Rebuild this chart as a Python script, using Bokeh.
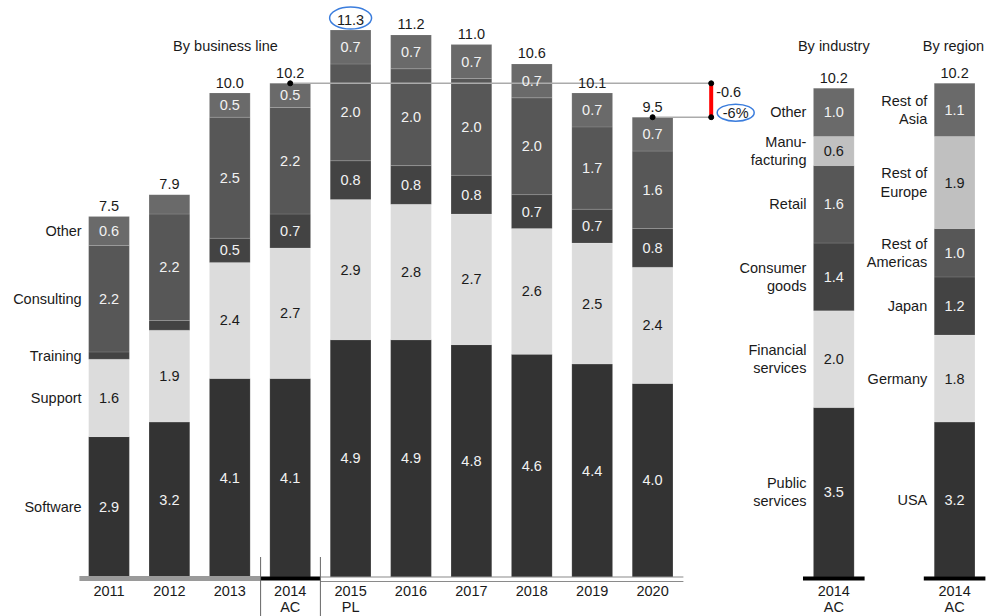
from bokeh.plotting import figure
from bokeh.models import Range1d, ColumnDataSource
from bokeh.core.properties import value
from bokeh.embed import file_html
from bokeh.resources import INLINE

# ---------------- data ----------------
years = ["2011", "2012", "2013", "2014", "2015", "2016", "2017", "2018", "2019", "2020"]
year_notes = ["", "", "", "AC", "PL", "", "", "", "", ""]
segment_names = ["Software", "Support", "Training", "Consulting", "Other"]
software = [2.9, 3.2, 4.1, 4.1, 4.9, 4.9, 4.8, 4.6, 4.4, 4.0]
support = [1.6, 1.9, 2.4, 2.7, 2.9, 2.8, 2.7, 2.6, 2.5, 2.4]
training = [0.15, 0.2, 0.5, 0.7, 0.8, 0.8, 0.8, 0.7, 0.7, 0.8]
consulting = [2.2, 2.2, 2.5, 2.2, 2.0, 2.0, 2.0, 2.0, 1.7, 1.6]
other = [0.6, 0.4, 0.5, 0.5, 0.7, 0.7, 0.7, 0.7, 0.7, 0.7]
totals = [7.5, 7.9, 10.0, 10.2, 11.3, 11.2, 11.0, 10.6, 10.1, 9.5]

industry_names = ["Public\nservices", "Financial\nservices", "Consumer\ngoods", "Retail", "Manu-\nfacturing", "Other"]
industry_values = [3.5, 2.0, 1.4, 1.6, 0.6, 1.0]
industry_total = 10.2

region_names = ["USA", "Germany", "Japan", "Rest of\nAmericas", "Rest of\nEurope", "Rest of\nAsia"]
region_values = [3.2, 1.8, 1.2, 1.0, 1.9, 1.1]
region_total = 10.2

panel_year = "2014"
panel_note = "AC"
titles = ["By business line", "By industry", "By region"]
delta_abs_label = "-0.6"
delta_pct_label = "-6%"

# ---------------- layout / style ----------------
W, H = 986, 616
PX_X, PX_Y = 60.4, 48.4          # pixels per data unit
X0, BASE = 108.5, 576.5          # canvas position of first bar centre / baseline
FONT = value("Liberation Sans")
FS = "14.5px"
BW = 0.674

main_colors = ["#333333", "#dcdcdc", "#434343", "#575757", "#6a6a6a"]
panel_colors = ["#333333", "#dcdcdc", "#434343", "#575757", "#c0c0c0", "#6a6a6a"]
light = {"#dcdcdc", "#c0c0c0"}

def dx(px):
    return px / PX_X

def dy(px):
    return px / PX_Y

p = figure(width=W, height=H, output_backend="svg", toolbar_location=None,
           x_range=Range1d(-X0 / PX_X, (W - X0) / PX_X),
           y_range=Range1d(-(H - BASE) / PX_Y, BASE / PX_Y),
           x_axis_location=None, y_axis_location=None, min_border=0)
p.grid.visible = False
p.outline_line_color = None
p.background_fill_color = "white"

xs = list(range(len(years)))
X_IND, X_REG = 12.0, 14.0

# ---------- stacked bars ----------
bars = dict(x=[], bottom=[], top=[], color=[])
labs = dict(x=[], y=[], text=[], color=[])

def add_stack(x, vals, colors, min_label=0.5):
    b = 0.0
    for v, c in zip(vals, colors):
        bars["x"].append(x); bars["bottom"].append(b); bars["top"].append(b + v)
        bars["color"].append(c)
        if v >= min_label:
            labs["x"].append(x); labs["y"].append(b + v / 2)
            labs["text"].append(f"{v:.1f}")
            labs["color"].append("#1a1a1a" if c in light else "#f2f2f2")
        b += v
    return b

series = [software, support, training, consulting, other]
tops = []
for i, x in enumerate(xs):
    tops.append(add_stack(x, [s[i] for s in series], main_colors))
ind_top = add_stack(X_IND, industry_values, panel_colors)
reg_top = add_stack(X_REG, region_values, panel_colors)

p.vbar(x="x", bottom="bottom", top="top", width=BW, fill_color="color",
       line_color="white", line_alpha=0.12, line_width=1, source=ColumnDataSource(bars))

# ---------- baseline pieces ----------
p.segment(x0=[xs[0] - 0.49], y0=[-dy(1.5)], x1=[2.51], y1=[-dy(1.5)], line_color="#9a9a9a", line_width=5)
p.segment(x0=[2.51], y0=[-dy(1.5)], x1=[3.5], y1=[-dy(1.5)], line_color="#000000", line_width=4)
for off in (0.0, 4.5):
    p.segment(x0=[3.5], y0=[-dy(off)], x1=[xs[-1] + 0.51], y1=[-dy(off)], line_color="#8a8a8a", line_width=1.2)
for xp in (X_IND, X_REG):
    p.segment(x0=[xp - 0.51], y0=[-dy(1.5)], x1=[xp + 0.51], y1=[-dy(1.5)], line_color="#000000", line_width=4)
p.segment(x0=[2.51, 3.5], y0=[dy(20), dy(20)], x1=[2.51, 3.5], y1=[-dy(60), -dy(60)],
          line_color="#666666", line_width=1)

# ---------- reference lines & delta ----------
DX = 9.97
y_ref, y_end = tops[3], tops[9]
p.segment(x0=[3, 9], y0=[y_ref, y_end], x1=[DX, DX], y1=[y_ref, y_end], line_color="#ababab", line_width=1.5)
p.segment(x0=[DX], y0=[y_end], x1=[DX], y1=[y_ref], line_color="#ff0000", line_width=4)
p.scatter(x=[3, DX, DX, 9], y=[y_ref, y_ref, y_end, y_end], size=5, color="black")
p.text(x=[DX], y=[y_ref], text=[delta_abs_label], text_font=FONT, text_font_size=FS,
       text_align="left", text_baseline="middle", x_offset=5, y_offset=9, text_color="#1a1a1a")
pct_x, pct_y = DX + dx(24.5), y_end + dy(4.5)
p.ellipse(x=[pct_x], y=[pct_y], width=37, height=17, width_units="screen", height_units="screen",
          fill_color=None, line_color="#3b7ddd", line_width=1.5)
p.text(x=[pct_x], y=[pct_y], text=[delta_pct_label], text_font=FONT, text_font_size=FS,
       text_align="center", text_baseline="middle", text_color="#1a1a1a")

# ---------- segment labels ----------
p.text(x="x", y="y", text="text", text_color="color", text_font=FONT, text_font_size=FS,
       text_align="center", text_baseline="middle", source=ColumnDataSource(labs))

# ---------- totals ----------
tot_x = xs + [X_IND, X_REG]
tot_y = tops + [ind_top, reg_top]
tot_t = [f"{t:.1f}" for t in totals] + [f"{industry_total:.1f}", f"{region_total:.1f}"]
p.text(x=tot_x, y=tot_y, text=tot_t, text_font=FONT, text_font_size=FS, text_align="center",
       text_baseline="middle", y_offset=-10.5, text_color="#1a1a1a")
p.ellipse(x=[xs[4]], y=[tops[4] + dy(12)], width=42, height=22, width_units="screen",
          height_units="screen", fill_color=None, line_color="#3b7ddd", line_width=1.5)

# ---------- category labels ----------
cum = 0.0
cat_y = []
for s in series:
    cat_y.append(cum + s[0] / 2)
    cum += s[0]
p.text(x=[xs[0] - BW / 2] * 5, y=cat_y, text=segment_names, text_font=FONT, text_font_size=FS,
       text_align="right", text_baseline="middle", x_offset=-7, text_color="#1a1a1a")

def side_labels(xp, vals, names):
    c = 0.0
    ys = []
    for v in vals:
        ys.append(c + v / 2)
        c += v
    p.text(x=[xp - BW / 2] * len(vals), y=ys, text=names, text_font=FONT, text_font_size=FS,
           text_align="right", text_baseline="middle", x_offset=-7, text_color="#1a1a1a",
           text_line_height=1.15)

side_labels(X_IND, industry_values, industry_names)
side_labels(X_REG, region_values, region_names)

# ---------- titles ----------
p.text(x=[dx(225 - X0), X_IND, X_REG - 0.02], y=[dy(BASE - 45)] * 3, text=titles, text_font=FONT,
       text_font_size=FS, text_align="center", text_baseline="middle", text_color="#1a1a1a")

# ---------- x labels ----------
lab_x = xs + [X_IND, X_REG]
p.text(x=lab_x, y=[0] * len(lab_x), text=years + [panel_year, panel_year], text_font=FONT,
       text_font_size=FS, text_align="center", text_baseline="middle", y_offset=14, text_color="#1a1a1a")
p.text(x=lab_x, y=[0] * len(lab_x), text=year_notes + [panel_note, panel_note], text_font=FONT,
       text_font_size=FS, text_align="center", text_baseline="middle", y_offset=30, text_color="#1a1a1a")

open("out.html", "w").write(file_html(p, INLINE))
